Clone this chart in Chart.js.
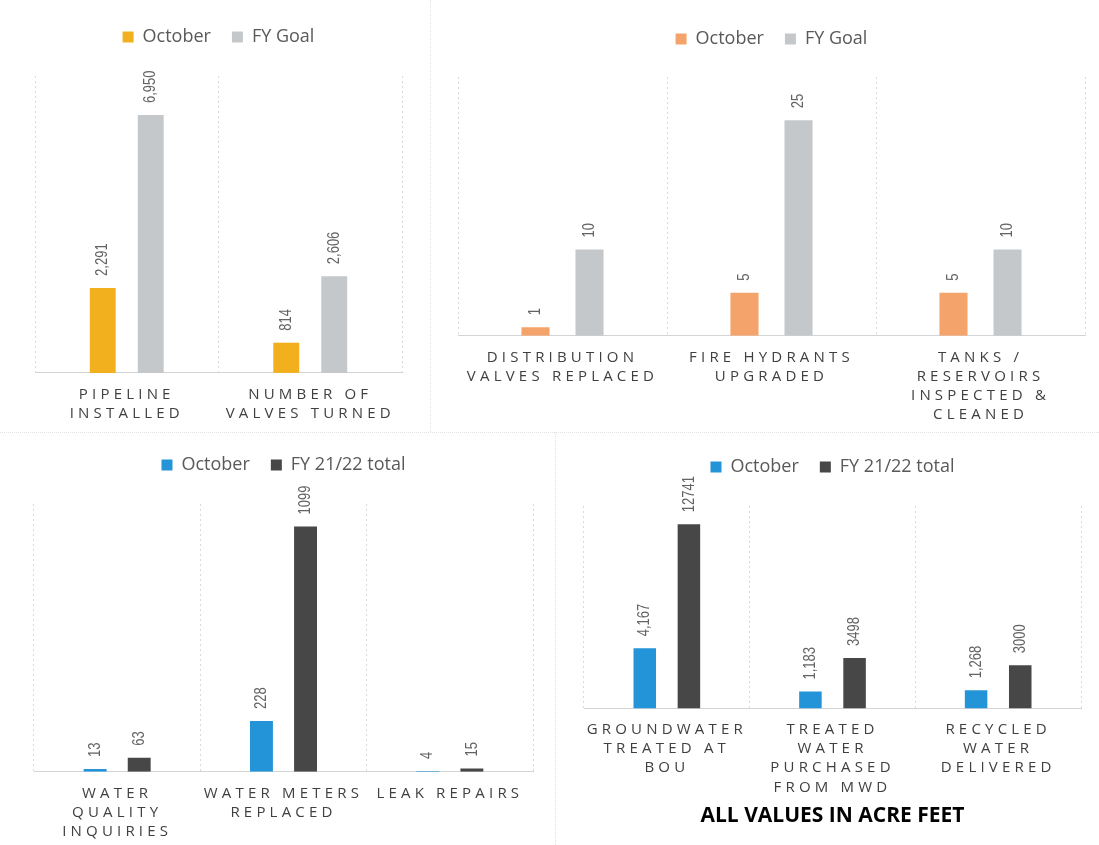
<!DOCTYPE html>
<html>
<head>
<meta charset="utf-8">
<title>October operations</title>
<script src="https://cdn.jsdelivr.net/npm/chart.js@4/dist/chart.umd.min.js"></script>
<style>
  html, body { margin: 0; padding: 0; background: #fff; }
  body { width: 1099px; height: 845px; position: relative; overflow: hidden; }
  .panel { position: absolute; }
  .line { position: absolute; border: 0 dotted #e2e2e2; }
  #p1 { left: 0; top: 0; width: 430px; height: 435px; }
  #p2 { left: 430px; top: 0; width: 669px; height: 436px; }
  #p3 { left: 0; top: 430px; width: 555px; height: 423px; }
  #p4 { left: 555px; top: 430px; width: 544px; height: 415px; }
</style>
</head>
<body>
<div class="line" style="left:0;top:432px;width:1099px;border-top-width:1px"></div>
<div class="line" style="left:430px;top:0;height:432px;border-left-width:1px"></div>
<div class="line" style="left:555px;top:432px;height:413px;border-left-width:1px"></div>
<div class="panel" id="p1"><canvas id="c1"></canvas></div>
<div class="panel" id="p2"><canvas id="c2"></canvas></div>
<div class="panel" id="p3"><canvas id="c3"></canvas></div>
<div class="panel" id="p4"><canvas id="c4"></canvas></div>
<script>
// pipeline / valves
const opsCategories = [["PIPELINE", "INSTALLED"], ["NUMBER OF", "VALVES TURNED"]];
const opsOctober = [2291, 814];
const opsGoal = [6950, 2606];

// distribution system
const valveCategories = [
  ["DISTRIBUTION", "VALVES REPLACED"],
  ["FIRE HYDRANTS", "UPGRADED"],
  ["TANKS /", "RESERVOIRS", "INSPECTED &", "CLEANED"],
];
const valveOctober = [1, 5, 5];
const valveGoal = [10, 25, 10];

// customer service
const serviceCategories = [["WATER", "QUALITY", "INQUIRIES"], ["WATER METERS", "REPLACED"], ["LEAK REPAIRS"]];
const serviceOctober = [13, 228, 4];
const serviceTotal = [63, 1099, 15];

// water supply (acre feet)
const supplyCategories = [
  ["GROUNDWATER", "TREATED AT", "BOU"],
  ["TREATED", "WATER", "PURCHASED", "FROM MWD"],
  ["RECYCLED", "WATER", "DELIVERED"],
];
const supplyOctober = [4167, 1183, 1268];
const supplyTotal = [12741, 3498, 3000];

const TEXT = "#595959";

// rotated value labels above the bars (stretched to look condensed)
const barValues = {
  id: "barValues",
  afterDatasetsDraw(chart) {
    const ctx = chart.ctx;
    chart.data.datasets.forEach((ds, i) => {
      const meta = chart.getDatasetMeta(i);
      meta.data.forEach((bar, j) => {
        const v = ds.data[j];
        const txt = ds.commas ? v.toLocaleString("en-US") : String(v);
        ctx.save();
        ctx.translate(bar.x, bar.y - 12);
        ctx.rotate(-Math.PI / 2);
        ctx.scale(1, 1.3);
        ctx.font = '13px "Liberation Sans", sans-serif';
        ctx.fillStyle = "#636363";
        ctx.textAlign = "left";
        ctx.textBaseline = "middle";
        ctx.fillText(txt, 0, 0);
        ctx.restore();
      });
    });
  },
};

// extra room between legend and plot
const legendGap = {
  id: "legendGap",
  beforeInit(chart, args, opts) {
    const fit = chart.legend.fit;
    chart.legend.fit = function () {
      fit.call(this);
      this.height += opts.gap || 0;
    };
  },
};

// spaced-out category labels
function spaceLabels(scale) {
  if (scale._spaced) return;
  scale._spaced = true;
  const orig = scale.drawLabels;
  scale.drawLabels = function (area) {
    this.ctx.save();
    this.ctx.letterSpacing = "4.2px";
    orig.call(this, area);
    this.ctx.restore();
  };
}

function makeChart(id, o) {
  return new Chart(document.getElementById(id), {
    type: "bar",
    data: {
      labels: o.labels,
      datasets: [
        { label: o.names[0], data: o.a, backgroundColor: o.colors[0], commas: o.commas[0],
          categoryPercentage: o.cat, barPercentage: o.bar },
        { label: o.names[1], data: o.b, backgroundColor: o.colors[1], commas: o.commas[1],
          categoryPercentage: o.cat, barPercentage: o.bar },
      ],
    },
    options: {
      responsive: true,
      maintainAspectRatio: false,
      animation: false,
      layout: { padding: o.pad },
      plugins: {
        legendGap: { gap: o.gap },
        legend: {
          position: "top",
          labels: {
            boxWidth: 11,
            boxHeight: 11,
            padding: 21,
            color: TEXT,
            font: { family: "'Open Sans', sans-serif", size: 18 },
          },
        },
        title: o.title
          ? {
              display: true,
              text: o.title,
              position: "bottom",
              color: "#000",
              font: { family: "'Open Sans', sans-serif", size: 21, weight: "bold" },
              padding: { top: -5, bottom: 11 },
            }
          : { display: false },
        tooltip: { enabled: false },
      },
      scales: {
        x: {
          afterUpdate: spaceLabels,
          grid: { color: "#dadada", drawTicks: false, offset: true },
          border: { color: "#d4d4d4", dash: [2, 3] },
          ticks: {
            color: "#404040",
            padding: 12,
            autoSkip: false,
            maxRotation: 0,
            font: { family: "'Open Sans', sans-serif", size: 15, lineHeight: 1.27 },
          },
        },
        y: { display: false, min: 0, max: o.max },
      },
    },
    plugins: [barValues, legendGap],
  });
}

makeChart("c1", {
  labels: opsCategories, a: opsOctober, b: opsGoal,
  names: ["October", "FY Goal"], colors: ["#F2B01E", "#C5C8CB"], commas: [true, true],
  max: 8000, cat: 0.523, bar: 0.54, gap: 20,
  pad: { left: 35, right: 28, top: 7, bottom: 0 },
});

makeChart("c2", {
  labels: valveCategories, a: valveOctober, b: valveGoal,
  names: ["October", "FY Goal"], colors: ["#F4A46A", "#C5C8CB"], commas: [true, true],
  max: 30, cat: 0.517, bar: 0.52, gap: 19,
  pad: { left: 28, right: 14, top: 9, bottom: 0 },
});

makeChart("c3", {
  labels: serviceCategories, a: serviceOctober, b: serviceTotal,
  names: ["October", "FY 21/22 total"], colors: ["#2494D9", "#474747"], commas: [false, false],
  max: 1200, cat: 0.53, bar: 0.52, gap: 20,
  pad: { left: 34, right: 22, top: 5, bottom: 0 },
});

makeChart("c4", {
  labels: supplyCategories, a: supplyOctober, b: supplyTotal,
  names: ["October", "FY 21/22 total"], colors: ["#2494D9", "#474747"], commas: [true, false],
  max: 14000, cat: 0.533, bar: 0.51, gap: 20,
  title: "ALL VALUES IN ACRE FEET",
  pad: { left: 29, right: 18, top: 7, bottom: 5 },
});
</script>
</body>
</html>
